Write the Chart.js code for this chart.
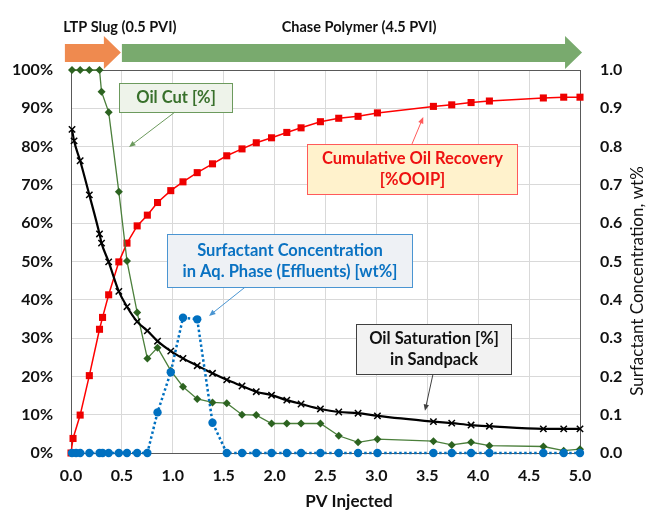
<!DOCTYPE html>
<html>
<head>
<meta charset="utf-8">
<script src="https://cdn.jsdelivr.net/npm/chart.js@4.4.1/dist/chart.umd.min.js"></script>
<style>
  html, body { margin: 0; padding: 0; background: #fff; }
  #wrap { width: 654px; height: 512px; }
</style>
</head>
<body>
<div id="wrap"><canvas id="chart" width="654" height="512"></canvas></div>
<script>
// PV injected values for each series
const pvRecovery = [0, 0.02, 0.09, 0.18, 0.28, 0.31, 0.37, 0.47, 0.55, 0.65, 0.75, 0.85, 0.98, 1.10, 1.24, 1.39, 1.53, 1.68, 1.82, 1.97, 2.12, 2.26, 2.45, 2.63, 2.82, 3.01, 3.56, 3.74, 3.93, 4.11, 4.64, 4.84, 5.0];
const oilRecovery = [0, 3.8, 9.9, 20.2, 32.3, 35.4, 41.3, 49.9, 54.8, 59.3, 62.1, 65.4, 68.5, 70.8, 73.2, 75.5, 77.6, 79.4, 81.0, 82.3, 83.7, 84.9, 86.5, 87.4, 87.9, 88.8, 90.5, 90.9, 91.5, 91.9, 92.7, 92.9, 92.9];

const pvSaturation = [0.01, 0.03, 0.09, 0.18, 0.28, 0.30, 0.37, 0.47, 0.55, 0.65, 0.75, 0.85, 0.98, 1.10, 1.24, 1.39, 1.53, 1.68, 1.82, 1.97, 2.12, 2.26, 2.45, 2.63, 2.82, 3.01, 3.56, 3.74, 3.93, 4.11, 4.64, 4.84, 5.0];
const oilSaturation = [84.5, 81.5, 76.3, 67.4, 57.2, 54.8, 49.9, 42.2, 38.2, 34.3, 31.9, 29.2, 26.6, 24.7, 22.8, 20.8, 19.1, 17.5, 16.0, 15.1, 13.8, 12.8, 11.5, 10.7, 10.4, 9.7, 8.2, 7.8, 7.3, 7.0, 6.3, 6.3, 6.3];

const pvOilCut = [0.01, 0.09, 0.18, 0.28, 0.30, 0.37, 0.47, 0.55, 0.65, 0.75, 0.85, 0.98, 1.10, 1.24, 1.39, 1.53, 1.68, 1.82, 1.97, 2.12, 2.26, 2.45, 2.63, 2.82, 3.01, 3.56, 3.74, 3.93, 4.11, 4.64, 4.84, 5.0];
const oilCut = [100, 100, 100, 100, 94.3, 89.0, 68.2, 50.1, 36.7, 24.7, 27.5, 21.5, 17.3, 14.1, 13.2, 13.0, 10.0, 9.9, 7.7, 7.7, 7.7, 7.7, 4.5, 2.8, 3.6, 3.1, 2.1, 2.8, 1.9, 1.7, 0.6, 1.0];

const pvSurfactant = [0.01, 0.05, 0.09, 0.18, 0.28, 0.31, 0.37, 0.47, 0.55, 0.65, 0.75, 0.85, 0.98, 1.10, 1.24, 1.39, 1.53, 1.68, 1.82, 1.97, 2.12, 2.26, 2.45, 2.63, 2.82, 3.01, 3.56, 3.74, 3.93, 4.11, 4.64, 4.84, 5.0];
const surfactant = [0, 0, 0, 0, 0, 0, 0, 0, 0, 0, 0, 0.106, 0.211, 0.353, 0.349, 0.079, 0, 0, 0, 0, 0, 0, 0, 0, 0, 0, 0, 0, 0, 0, 0, 0, 0];

// injection phases along the top
const phases = [
    { label: 'LTP Slug (0.5 PVI)', from: -0.06, to: 0.49, color: '#ef8a4f', textX: 0.48 },
    { label: 'Chase Polymer (4.5 PVI)', from: 0.50, to: 5.02, color: '#79aa6e', textX: 2.83 }
];

// callout boxes (data coordinates)
const callouts = [
    { lines: ['Oil Cut [%]'], x1: 0.47, x2: 1.58, y1: 96.6, y2: 89.0, color: '#38702b', fill: '#eef3ea', border: '#6c9a5d',
      arrow: [1.02, 89.0, 0.57, 79.9] },
    { lines: ['Cumulative Oil Recovery', '[%OOIP]'], x1: 2.32, x2: 4.38, y1: 80.7, y2: 67.6, color: '#ee1111', fill: '#fff2cc', border: '#ff5a5a',
      arrow: [3.35, 80.7, 3.46, 87.7] },
    { lines: ['Surfactant Concentration', 'in Aq. Phase (Effluents) [wt%]'], x1: 0.943, x2: 3.35, y1: 57.2, y2: 43.3, color: '#0a72c2', fill: '#eef1f5', border: '#4a95d2',
      arrow: [1.71, 43.3, 1.356, 35.8] },
    { lines: ['Oil Saturation [%]', 'in Sandpack'], x1: 2.80, x2: 4.32, y1: 33.7, y2: 20.6, color: '#111111', fill: '#f2f2f2', border: '#404040',
      arrow: [3.556, 20.6, 3.477, 11.0] }
];

const FONT = 'Lato, "Open Sans", sans-serif';

function toPoints(xs, ys) {
    return xs.map((x, i) => ({ x: x, y: ys[i] }));
}

function drawArrow(ctx, x1, y1, x2, y2, color) {
    const ang = Math.atan2(y2 - y1, x2 - x1);
    const head = 7;
    ctx.save();
    ctx.strokeStyle = color;
    ctx.fillStyle = color;
    ctx.lineWidth = 1;
    ctx.beginPath();
    ctx.moveTo(x1, y1);
    ctx.lineTo(x2 - Math.cos(ang) * head * 0.8, y2 - Math.sin(ang) * head * 0.8);
    ctx.stroke();
    ctx.beginPath();
    ctx.moveTo(x2, y2);
    ctx.lineTo(x2 - head * Math.cos(ang - 0.4), y2 - head * Math.sin(ang - 0.4));
    ctx.lineTo(x2 - head * Math.cos(ang + 0.4), y2 - head * Math.sin(ang + 0.4));
    ctx.closePath();
    ctx.fill();
    ctx.restore();
}

const decorPlugin = {
    id: 'decor',
    beforeDatasetsDraw(chart) {
        // frame top and right like the Excel plot area
        const { ctx, chartArea: a } = chart;
        ctx.save();
        ctx.strokeStyle = '#595959';
        ctx.lineWidth = 1;
        ctx.beginPath();
        ctx.moveTo(a.left, a.top + 0.5);
        ctx.lineTo(a.right + 0.5, a.top + 0.5);
        ctx.lineTo(a.right + 0.5, a.bottom);
        ctx.stroke();
        ctx.restore();
    },
    afterDatasetsDraw(chart) {
        const { ctx, scales } = chart;
        const xs = scales.x, ys = scales.y;
        callouts.forEach(c => {
            const l = Math.round(xs.getPixelForValue(c.x1)) + 0.5;
            const r = Math.round(xs.getPixelForValue(c.x2)) + 0.5;
            const t = Math.round(ys.getPixelForValue(c.y1)) + 0.5;
            const b = Math.round(ys.getPixelForValue(c.y2)) + 0.5;
            ctx.save();
            ctx.fillStyle = c.fill;
            ctx.strokeStyle = c.border;
            ctx.lineWidth = 1;
            ctx.fillRect(l, t, r - l, b - t);
            ctx.strokeRect(l, t, r - l, b - t);
            ctx.fillStyle = c.color;
            ctx.font = 'bold 16.5px ' + FONT;
            ctx.textAlign = 'center';
            ctx.textBaseline = 'middle';
            const lh = 21;
            const cy = (t + b) / 2 - (c.lines.length - 1) * lh / 2;
            c.lines.forEach((line, i) => ctx.fillText(line, (l + r) / 2, cy + i * lh));
            ctx.restore();
            const [ax1, ay1, ax2, ay2] = c.arrow;
            drawArrow(ctx, xs.getPixelForValue(ax1), ys.getPixelForValue(ay1),
                xs.getPixelForValue(ax2), ys.getPixelForValue(ay2), c.border);
        });
    },
    afterDraw(chart) {
        const { ctx, scales, chartArea: a } = chart;
        const xs = scales.x;
        // phase arrows above the plot
        phases.forEach(p => {
            const x1 = xs.getPixelForValue(p.from);
            const x2 = xs.getPixelForValue(p.to);
            const headLen = 17;
            const top = a.top - 26, bot = a.top - 8;
            const htop = a.top - 34, hbot = a.top - 1;
            ctx.save();
            ctx.fillStyle = p.color;
            ctx.beginPath();
            ctx.moveTo(x1, top);
            ctx.lineTo(x2 - headLen, top);
            ctx.lineTo(x2 - headLen, htop);
            ctx.lineTo(x2, (htop + hbot) / 2);
            ctx.lineTo(x2 - headLen, hbot);
            ctx.lineTo(x2 - headLen, bot);
            ctx.lineTo(x1, bot);
            ctx.closePath();
            ctx.fill();
            ctx.fillStyle = '#111';
            ctx.font = 'bold 14.5px ' + FONT;
            ctx.textAlign = 'center';
            ctx.textBaseline = 'middle';
            ctx.fillText(p.label, xs.getPixelForValue(p.textX), a.top - 43);
            ctx.restore();
        });
        // axis titles
        ctx.save();
        ctx.fillStyle = '#111';
        ctx.textAlign = 'center';
        ctx.textBaseline = 'middle';
        ctx.font = 'bold 17px ' + FONT;
        ctx.fillText('PV Injected', 349, 502);
        ctx.translate(638, 281);
        ctx.rotate(-Math.PI / 2);
        ctx.font = '17px ' + FONT;
        ctx.fillText('Surfactant Concentration, wt%', 0, 0);
        ctx.restore();
    }
};

const tickFont = { family: FONT, size: 16, weight: 'bold' };

new Chart(document.getElementById('chart'), {
    type: 'line',
    data: {
        datasets: [
            {
                label: 'Surfactant Concentration',
                data: toPoints(pvSurfactant, surfactant),
                yAxisID: 'y2',
                borderColor: '#0070c0',
                backgroundColor: '#0070c0',
                borderWidth: 2.5,
                borderDash: [2.5, 2.5],
                pointStyle: 'circle',
                pointRadius: 4.2,
                pointBorderWidth: 0,
                clip: false
            },
            {
                label: 'Oil Saturation',
                data: toPoints(pvSaturation, oilSaturation),
                yAxisID: 'y',
                borderColor: '#000',
                backgroundColor: '#000',
                borderWidth: 2.2,
                cubicInterpolationMode: 'monotone',
                pointStyle: 'crossRot',
                pointRadius: 4.5,
                pointBorderWidth: 1.5,
                clip: false
            },
            {
                label: 'Oil Cut',
                data: toPoints(pvOilCut, oilCut),
                yAxisID: 'y',
                borderColor: '#4b7f3b',
                backgroundColor: '#2c6320',
                pointBorderColor: '#2c6320',
                borderWidth: 1.3,
                pointStyle: 'rectRot',
                pointRadius: 4,
                pointBorderWidth: 0,
                clip: false
            },
            {
                label: 'Cumulative Oil Recovery',
                data: toPoints(pvRecovery, oilRecovery),
                yAxisID: 'y',
                borderColor: '#ff0000',
                backgroundColor: '#ee0000',
                borderWidth: 1.5,
                pointStyle: 'rect',
                pointRadius: 5,
                pointBorderWidth: 0,
                clip: false
            }
        ]
    },
    options: {
        responsive: false,
        animation: false,
        layout: { padding: { top: 70, left: 0, right: 0, bottom: 0 } },
        plugins: {
            legend: { display: false },
            tooltip: { enabled: false }
        },
        scales: {
            x: {
                type: 'linear',
                min: 0,
                max: 5,
                ticks: { stepSize: 0.5, font: tickFont, color: '#111', padding: 13, callback: v => v.toFixed(1) },
                grid: { color: '#d9d9d9', drawTicks: false },
                border: { color: '#595959' },
                afterFit: s => { s.height = 59; }
            },
            y: {
                position: 'left',
                min: 0,
                max: 100,
                ticks: { stepSize: 10, font: tickFont, color: '#111', padding: 18, callback: v => v + '%' },
                grid: { color: '#d9d9d9', drawTicks: false },
                border: { color: '#595959' },
                afterFit: s => { s.width = 71; }
            },
            y2: {
                position: 'right',
                min: 0,
                max: 1,
                ticks: { stepSize: 0.1, font: tickFont, color: '#111', padding: 20, callback: v => v.toFixed(1) },
                grid: { drawOnChartArea: false, drawTicks: false },
                border: { color: '#595959' },
                afterFit: s => { s.width = 74; }
            }
        }
    },
    plugins: [decorPlugin]
});
</script>
</body>
</html>
